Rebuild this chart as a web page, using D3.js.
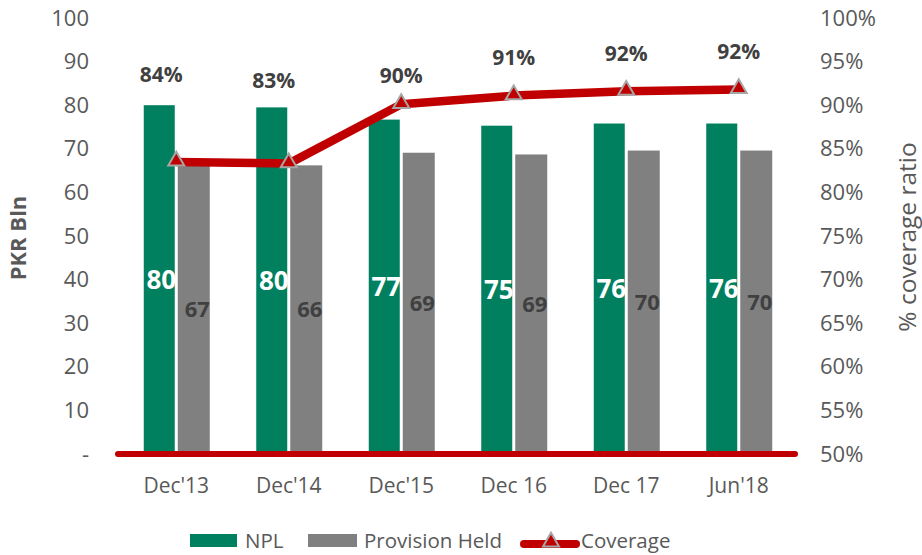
<!DOCTYPE html>
<html>
<head>
<meta charset="utf-8">
<script src="https://cdn.jsdelivr.net/npm/d3@7"></script>
<style>
  html, body { margin: 0; padding: 0; background: #fff; }
  svg { display: block; font-family: "Open Sans", sans-serif; }
</style>
</head>
<body>
<svg id="chart" width="922" height="555"></svg>
<script>
// ---- data ----
const categories = ["Dec'13", "Dec'14", "Dec'15", "Dec 16", "Dec 17", "Jun'18"];
const nplValues = [80.0, 79.5, 76.7, 75.3, 75.8, 75.8];
const nplLabels = ["80", "80", "77", "75", "76", "76"];
const provisionValues = [66.6, 66.2, 69.1, 68.7, 69.6, 69.6];
const provisionLabels = ["67", "66", "69", "69", "70", "70"];
const coverageValues = [83.5, 83.3, 90.1, 91.1, 91.6, 91.8];
const coverageLabels = ["84%", "83%", "90%", "91%", "92%", "92%"];
const leftTicks = [0, 10, 20, 30, 40, 50, 60, 70, 80, 90, 100];
const rightTicks = [50, 55, 60, 65, 70, 75, 80, 85, 90, 95, 100];
const seriesNames = ["NPL", "Provision Held", "Coverage"];

// ---- layout ----
const svg = d3.select("#chart");
const plotLeft = 120, plotRight = 795, plotTop = 18, plotBottom = 454;
const green = "#00805F", gray = "#808080", red = "#C00000", textCol = "#595959";

const x = d3.scaleBand().domain(categories).range([plotLeft, plotRight]);
const yL = d3.scaleLinear().domain([0, 100]).range([plotBottom, plotTop]);
const yR = d3.scaleLinear().domain([50, 100]).range([plotBottom, plotTop]);
const barW = 31, gap = 3;
const cx = c => x(c) + x.bandwidth() / 2;

// left axis
const axL = svg.append("g").attr("transform", `translate(${plotLeft},0)`)
  .call(d3.axisLeft(yL).tickValues(leftTicks).tickSize(0).tickPadding(31)
    .tickFormat(d => d === 0 ? "-" : d));
axL.select(".domain").remove();
axL.selectAll("text").attr("fill", textCol).style("font-size", "22px").style("font-family", "Open Sans");

// right axis
const axR = svg.append("g").attr("transform", `translate(${plotRight},0)`)
  .call(d3.axisRight(yR).tickValues(rightTicks).tickSize(0).tickPadding(25)
    .tickFormat(d => d + "%"));
axR.select(".domain").remove();
axR.selectAll("text").attr("fill", textCol).style("font-size", "22px").style("font-family", "Open Sans");

// x axis labels
const axX = svg.append("g").attr("transform", `translate(0,${plotBottom})`)
  .call(d3.axisBottom(x).tickSize(0).tickPadding(24));
axX.select(".domain").remove();
axX.selectAll("text").attr("fill", textCol).style("font-size", "21px").style("font-family", "Open Sans");

// axis titles
svg.append("text").attr("transform", `translate(26,238) rotate(-90)`)
  .attr("text-anchor", "middle").attr("fill", textCol)
  .style("font-size", "22px").style("font-weight", "bold").text("PKR Bln");
svg.append("text").attr("transform", `translate(916,237) rotate(-90)`)
  .attr("text-anchor", "middle").attr("fill", textCol)
  .style("font-size", "24.5px").text("% coverage ratio");

// bars
svg.append("g").selectAll("rect").data(categories).join("rect")
  .attr("x", c => cx(c) - gap / 2 - barW)
  .attr("y", (c, i) => yL(nplValues[i]))
  .attr("width", barW)
  .attr("height", (c, i) => plotBottom - yL(nplValues[i]))
  .attr("fill", green);
svg.append("g").selectAll("rect").data(categories).join("rect")
  .attr("x", c => cx(c) + gap / 2)
  .attr("y", (c, i) => yL(provisionValues[i]))
  .attr("width", barW + 1)
  .attr("height", (c, i) => plotBottom - yL(provisionValues[i]))
  .attr("fill", gray);

// bar labels
svg.append("g").selectAll("text").data(categories).join("text")
  .attr("x", c => cx(c) - 15)
  .attr("y", (c, i) => (yL(nplValues[i]) + plotBottom) / 2)
  .attr("dy", "0.35em").attr("text-anchor", "middle")
  .attr("fill", "#fff").style("font-size", "26px").style("font-weight", "bold")
  .text((c, i) => nplLabels[i]);
svg.append("g").selectAll("text").data(categories).join("text")
  .attr("x", c => cx(c) + 21)
  .attr("y", (c, i) => (yL(provisionValues[i]) + plotBottom) / 2)
  .attr("dy", "0.35em").attr("text-anchor", "middle")
  .attr("fill", "#404040").style("font-size", "22px").style("font-weight", "bold")
  .text((c, i) => provisionLabels[i]);

// red baseline
svg.append("line").attr("x1", plotLeft - 2).attr("x2", plotRight).attr("y1", plotBottom).attr("y2", plotBottom)
  .attr("stroke", red).attr("stroke-width", 6).attr("stroke-linecap", "round");

// coverage line
const line = d3.line().x((v, i) => cx(categories[i])).y(v => yR(v));
svg.append("path").datum(coverageValues).attr("d", line)
  .attr("fill", "none").attr("stroke", red).attr("stroke-width", 8.5).attr("stroke-linejoin", "round");

const tri = d3.symbol().type(d3.symbolTriangle).size(110);
svg.append("g").selectAll("path").data(coverageValues).join("path")
  .attr("d", tri)
  .attr("transform", (v, i) => `translate(${cx(categories[i])},${yR(v) - 1})`)
  .attr("fill", red).attr("stroke", "#A6A6A6").attr("stroke-width", 2);

// coverage labels (manually nudged like the original)
const labelDx = [-15, -15, 0, 0, 0, 0];
const labelDy = [-87, -83, -29, -38, -38, -38];
svg.append("g").selectAll("text").data(coverageValues).join("text")
  .attr("x", (v, i) => cx(categories[i]) + labelDx[i])
  .attr("y", (v, i) => yR(v) + labelDy[i])
  .attr("dy", "0.35em").attr("text-anchor", "middle")
  .attr("fill", "#404040").style("font-size", "21px").style("font-weight", "bold")
  .text((v, i) => coverageLabels[i]);

// legend
const lg = svg.append("g");
const ly = 541;
lg.append("rect").attr("x", 190).attr("y", ly - 7).attr("width", 47).attr("height", 13).attr("fill", green);
lg.append("text").attr("x", 245).attr("y", ly).attr("dy", "0.35em").attr("fill", textCol)
  .style("font-size", "20.5px").text(seriesNames[0]);
lg.append("rect").attr("x", 308).attr("y", ly - 7).attr("width", 49).attr("height", 13).attr("fill", gray);
lg.append("text").attr("x", 364).attr("y", ly).attr("dy", "0.35em").attr("fill", textCol)
  .style("font-size", "20.5px").text(seriesNames[1]);
lg.append("line").attr("x1", 524).attr("x2", 576).attr("y1", ly + 3).attr("y2", ly + 3)
  .attr("stroke", red).attr("stroke-width", 8).attr("stroke-linecap", "round");
lg.append("path").attr("d", tri).attr("transform", `translate(551,${ly + 1})`)
  .attr("fill", red).attr("stroke", "#A6A6A6").attr("stroke-width", 2);
lg.append("text").attr("x", 581).attr("y", ly).attr("dy", "0.35em").attr("fill", textCol)
  .style("font-size", "20.5px").text(seriesNames[2]);
</script>
</body>
</html>
